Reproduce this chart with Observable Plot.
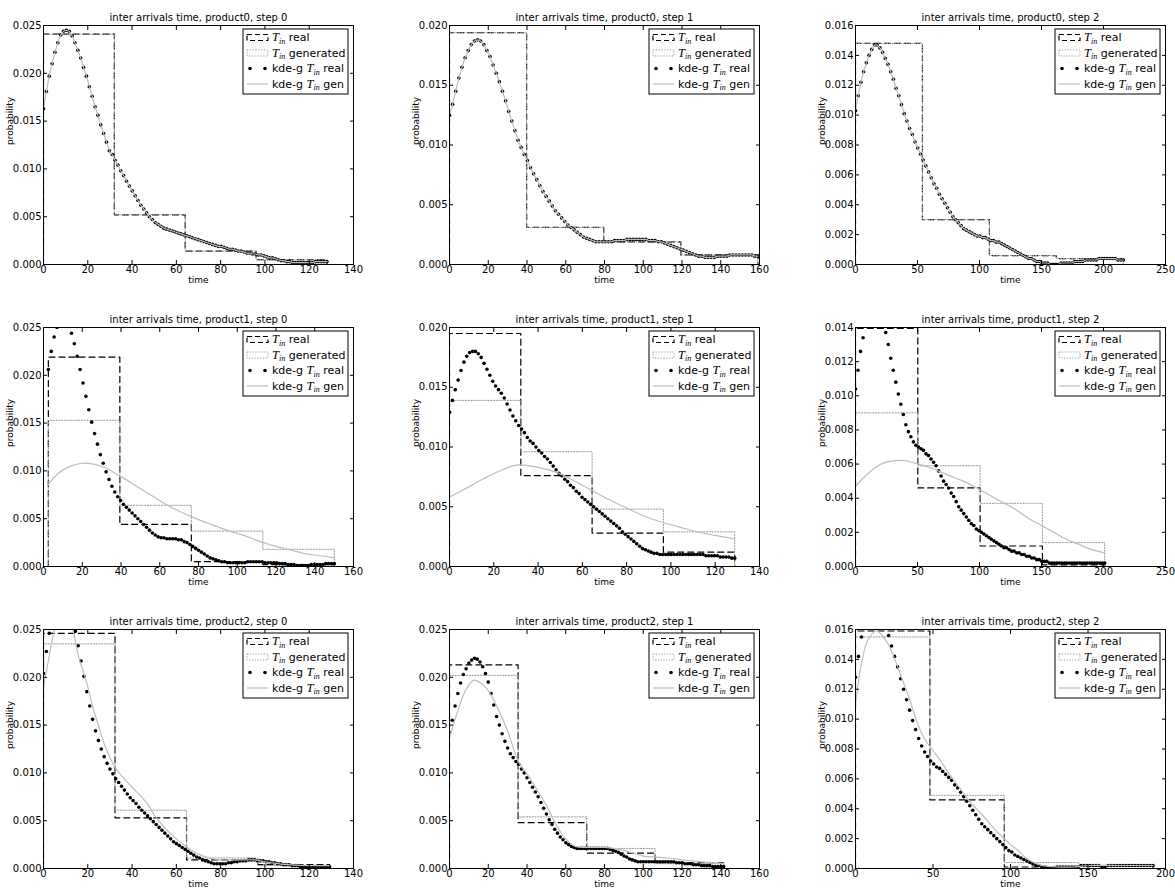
<!DOCTYPE html>
<html><head><meta charset="utf-8">
<script src="https://cdn.jsdelivr.net/npm/d3@7"></script>
<script src="https://cdn.jsdelivr.net/npm/@observablehq/plot@0.6"></script>
<style>
body{margin:0;background:#fff;}
#fig{position:relative;width:1175px;height:889px;overflow:hidden;background:#fff;font-family:"DejaVu Sans",sans-serif;}
#fig svg{position:absolute;overflow:visible;}
</style></head><body><div id="fig"></div>
<script>
// ---------- tick labels ----------
const xTicks140 = [0,20,40,60,80,100,120,140];
const xTicks160 = [0,20,40,60,80,100,120,140,160];
const xTicks200 = [0,50,100,150,200];
const xTicks250 = [0,50,100,150,200,250];
const yTicks025 = [0,0.005,0.010,0.015,0.020,0.025];
const yTicks020 = [0,0.005,0.010,0.015,0.020];
const yTicks016 = [0,0.002,0.004,0.006,0.008,0.010,0.012,0.014,0.016];
const yTicks014 = [0,0.002,0.004,0.006,0.008,0.010,0.012,0.014];

const titles = [
  "inter arrivals time, product0, step 0","inter arrivals time, product0, step 1","inter arrivals time, product0, step 2",
  "inter arrivals time, product1, step 0","inter arrivals time, product1, step 1","inter arrivals time, product1, step 2",
  "inter arrivals time, product2, step 0","inter arrivals time, product2, step 1","inter arrivals time, product2, step 2"
];
const legendLabels = [["", "real"], ["", "generated"], ["kde-g ", "real"], ["kde-g ", "gen"]];

// ---------- product0 step0 ----------
const p0s0_edges = [0,32,64,96,128];
const p0s0_realHist = [.0241,.0052,.0014,.0005];
const p0s0_genHist = [.0241,.0052,.0014,.0005];
const p0s0_kdeRange = [0,128];
const p0s0_kdeReal = [.0163,.0181,.0197,.0210,.0222,.0232,.0240,.0244,.0245,.0244,.0239,.0232,.0224,.0216,.0206,.0197,.0186,.0176,.0165,.0156,.0146,.0137,.0128,.0119,.0115,
.0109,.0104,.0098,.0093,.0087,.0082,.0077,.0072,.0067,.0062,.0058,.0054,.0050,.0047,.0044,.0042,.0040,.0038,.0037,.0036,.0035,.0034,.0033,.0032,.0031,
.0030,.0029,.0028,.0027,.0026,.0025,.0024,.0023,.0022,.0021,.0020,.0019,.0019,.0018,.0017,.0016,.0016,.0015,.0014,.0014,.0013,.0012,.0012,.0011,.0011,
.0010,.0010,.0009,.0008,.0007,.0007,.0006,.0005,.0004,.0004,.0003,.0003,.0002,.0002,.0002,.0002,.0002,.0002,.0002,.0002,.0003,.0003,.0003,.0003,.0003];
const p0s0_kdeGen = [.0163,.0181,.0197,.0210,.0222,.0232,.0240,.0244,.0245,.0244,.0239,.0232,.0224,.0216,.0206,.0197,.0186,.0176,.0165,.0156,.0146,.0137,.0128,.0119,.0115,
.0109,.0104,.0098,.0093,.0087,.0082,.0077,.0072,.0067,.0062,.0058,.0054,.0050,.0047,.0044,.0042,.0040,.0038,.0037,.0036,.0035,.0034,.0033,.0032,.0031,
.0030,.0029,.0028,.0027,.0026,.0025,.0024,.0023,.0022,.0021,.0020,.0019,.0019,.0018,.0017,.0016,.0016,.0015,.0014,.0014,.0013,.0012,.0012,.0011,.0011,
.0010,.0010,.0009,.0008,.0007,.0007,.0006,.0005,.0004,.0004,.0003,.0003,.0002,.0002,.0002,.0002,.0002,.0002,.0002,.0002,.0003,.0003,.0003,.0003,.0003];

// ---------- product0 step1 ----------
const p0s1_edges = [0,39.8,79.6,119.4,159.2];
const p0s1_realHist = [.0194,.0031,.0019,.0008];
const p0s1_genHist = [.0194,.0031,.0019,.0008];
const p0s1_kdeRange = [0,159.2];
const p0s1_kdeReal = [.0125,.0134,.0145,.0156,.0165,.0173,.0179,.0184,.0187,.0188,
.0187,.0184,.0179,.0174,.0167,.0160,.0153,.0145,.0137,.0128,
.0120,.0112,.0104,.0098,.0092,.0087,.0081,.0076,.0071,.0066,
.0061,.0057,.0053,.0049,.0045,.0042,.0039,.0036,.0033,.0031,
.0029,.0027,.0025,.0023,.0022,.0021,.0020,.0019,.0019,.0019,
.0019,.0019,.0019,.0020,.0020,.0020,.0020,.0021,.0021,.0021,
.0021,.0021,.0021,.0021,.0020,.0020,.0020,.0019,.0019,.0018,
.0017,.0016,.0015,.0014,.0013,.0012,.0011,.0010,.0009,.0008,
.0007,.0007,.0006,.0006,.0006,.0006,.0007,.0007,.0007,.0007,
.0008,.0008,.0008,.0008,.0008,.0008,.0008,.0008,.0007,.0007];
const p0s1_kdeGen = [.0125,.0134,.0145,.0156,.0165,.0173,.0179,.0184,.0187,.0188,
.0187,.0184,.0179,.0174,.0167,.0160,.0153,.0145,.0137,.0128,
.0120,.0112,.0104,.0098,.0092,.0087,.0081,.0076,.0071,.0066,
.0061,.0057,.0053,.0049,.0045,.0042,.0039,.0036,.0033,.0031,
.0029,.0027,.0025,.0023,.0022,.0021,.0020,.0019,.0019,.0019,
.0019,.0019,.0019,.0020,.0020,.0020,.0020,.0021,.0021,.0021,
.0021,.0021,.0021,.0021,.0020,.0020,.0020,.0019,.0019,.0018,
.0017,.0016,.0015,.0014,.0013,.0012,.0011,.0010,.0009,.0008,
.0007,.0007,.0006,.0006,.0006,.0006,.0007,.0007,.0007,.0007,
.0008,.0008,.0008,.0008,.0008,.0008,.0008,.0008,.0007,.0007];

// ---------- product0 step2 ----------
const p0s2_edges = [0,54,108,162,216];
const p0s2_realHist = [.0148,.0030,.0006,.0004];
const p0s2_genHist = [.0148,.0030,.0006,.0004];
const p0s2_kdeRange = [0,216];
const p0s2_kdeReal = [.0103,.0113,.0122,.0129,.0135,.0140,.0144,.0147,.0147,.0145,
.0142,.0138,.0134,.0129,.0124,.0118,.0113,.0107,.0101,.0096,
.0091,.0087,.0082,.0078,.0074,.0070,.0066,.0062,.0058,.0054,
.0051,.0047,.0044,.0041,.0038,.0035,.0032,.0030,.0028,.0026,
.0024,.0023,.0022,.0021,.0020,.0019,.0019,.0018,.0018,.0017,
.0016,.0016,.0015,.0015,.0014,.0013,.0012,.0011,.0010,.0009,
.0008,.0007,.0006,.0005,.0004,.0004,.0003,.0002,.0002,.0001,
.0001,.0001,.0000,.0000,.0000,.0000,.0001,.0001,.0001,.0001,
.0001,.0002,.0002,.0002,.0002,.0003,.0003,.0003,.0003,.0003,
.0004,.0004,.0004,.0004,.0004,.0004,.0004,.0003,.0003,.0003];
const p0s2_kdeGen = [.0103,.0113,.0122,.0129,.0135,.0140,.0144,.0147,.0147,.0145,
.0142,.0138,.0134,.0129,.0124,.0118,.0113,.0107,.0101,.0096,
.0091,.0087,.0082,.0078,.0074,.0070,.0066,.0062,.0058,.0054,
.0051,.0047,.0044,.0041,.0038,.0035,.0032,.0030,.0028,.0026,
.0024,.0023,.0022,.0021,.0020,.0019,.0019,.0018,.0018,.0017,
.0016,.0016,.0015,.0015,.0014,.0013,.0012,.0011,.0010,.0009,
.0008,.0007,.0006,.0005,.0004,.0004,.0003,.0002,.0002,.0001,
.0001,.0001,.0000,.0000,.0000,.0000,.0001,.0001,.0001,.0001,
.0001,.0002,.0002,.0002,.0002,.0003,.0003,.0003,.0003,.0003,
.0004,.0004,.0004,.0004,.0004,.0004,.0004,.0003,.0003,.0003];

// ---------- product1 step0 ----------
const p1s0_edges = [2.5,39.4,76.3,113.2,150.1];
const p1s0_realHist = [.0219,.0044,.0005,.0002];
const p1s0_genHist = [.0153,.0064,.0037,.0018];
const p1s0_kdeRange = [2.5,150.1];
const p1s0_kdeReal = [.0206,.0225,.0240,.0250,.0258,.0263,.0264,.0256,.0244,.0233,
.0220,.0206,.0192,.0178,.0164,.0151,.0139,.0128,.0117,.0108,
.0099,.0091,.0084,.0078,.0073,.0069,.0065,.0062,.0059,.0056,
.0053,.0050,.0047,.0044,.0041,.0038,.0035,.0033,.0031,.0030,
.0030,.0029,.0029,.0029,.0029,.0028,.0028,.0026,.0025,.0023,
.0021,.0019,.0017,.0015,.0013,.0011,.0009,.0008,.0007,.0006,
.0005,.0005,.0004,.0004,.0004,.0004,.0004,.0004,.0004,.0005,
.0005,.0005,.0005,.0005,.0005,.0004,.0004,.0004,.0004,.0004,
.0003,.0003,.0003,.0002,.0002,.0002,.0001,.0001,.0001,.0001,
.0001,.0002,.0002,.0002,.0002,.0002,.0003,.0003,.0003,.0003];
const p1s0_genX = [2.5,8,14,20,26,32,40,48,56,64,72,80,88,96,104,112,120,128,136,144,150];
const p1s0_genY = [.0086,.0098,.0105,.0108,.0107,.0103,.0094,.0084,.0074,.0064,.0056,.0049,.0043,.0037,.0032,.0026,.0021,.0017,.0013,.0011,.0009];

// ---------- product1 step1 ----------
const p1s1_edges = [0,32.2,64.4,96.6,128.8];
const p1s1_realHist = [.0195,.0076,.0028,.0012];
const p1s1_genHist = [.0139,.0096,.0048,.0029];
const p1s1_kdeRange = [0,128.8];
const p1s1_kdeReal = [.0129,.0139,.0148,.0156,.0164,.0171,.0176,.0179,.0180,.0180,
.0178,.0175,.0170,.0165,.0160,.0155,.0151,.0148,.0145,.0141,
.0136,.0131,.0126,.0122,.0118,.0115,.0112,.0108,.0105,.0103,
.0100,.0097,.0095,.0092,.0090,.0087,.0084,.0081,.0078,.0076,
.0073,.0071,.0068,.0066,.0063,.0061,.0058,.0056,.0054,.0052,
.0050,.0048,.0046,.0044,.0042,.0040,.0038,.0036,.0034,.0032,
.0029,.0027,.0025,.0023,.0021,.0019,.0017,.0015,.0014,.0013,
.0012,.0011,.0011,.0010,.0010,.0010,.0010,.0010,.0010,.0010,
.0010,.0010,.0010,.0010,.0010,.0010,.0010,.0010,.0010,.0009,
.0009,.0009,.0009,.0009,.0008,.0008,.0008,.0008,.0007,.0007];
const p1s1_genX = [0,8,16,24,31,40,48,56,64,72,80,88,96,104,112,120,128.8];
const p1s1_genY = [.0058,.0066,.0074,.0081,.0085,.0083,.0079,.0072,.0064,.0056,.0049,.0042,.0037,.0033,.0029,.0026,.0023];

// ---------- product1 step2 ----------
const p1s2_edges = [0,50.25,100.5,150.75,201];
const p1s2_realHist = [.01395,.0046,.0012,.0001];
const p1s2_genHist = [.0090,.0059,.0037,.0014];
const p1s2_kdeRange = [0,201];
const p1s2_kdeReal = [.0104,.0115,.0126,.0134,.0141,.0147,.0151,.0154,.0154,.0152,
.0148,.0143,.0137,.0130,.0122,.0115,.0108,.0101,.0095,.0089,
.0083,.0079,.0076,.0073,.0071,.0070,.0069,.0068,.0066,.0065,
.0063,.0061,.0059,.0056,.0053,.0050,.0048,.0046,.0043,.0041,
.0038,.0035,.0033,.0031,.0029,.0027,.0025,.0024,.0022,.0021,
.0020,.0019,.0018,.0017,.0016,.0015,.0014,.0013,.0012,.0011,
.0011,.0010,.0009,.0009,.0008,.0008,.0007,.0007,.0006,.0006,
.0005,.0005,.0004,.0004,.0003,.0003,.0003,.0002,.0002,.0002,
.0002,.0002,.0002,.0002,.0002,.0002,.0002,.0002,.0002,.0002,
.0002,.0002,.0002,.0002,.0002,.0002,.0002,.0002,.0002,.0002];
const p1s2_genX = [0,8,16,24,32,40,50,60,70,80,90,100,110,120,130,140,150,160,170,180,190,201];
const p1s2_genY = [.0047,.0053,.0058,.0061,.0062,.0062,.0060,.0058,.0055,.0052,.0049,.0045,.0041,.0037,.0033,.0028,.0024,.0020,.0016,.0013,.0010,.0008];

// ---------- product2 step0 ----------
const p2s0_edges = [0,32.3,64.6,96.9,129.2];
const p2s0_realHist = [.0246,.0053,.0009,.0004];
const p2s0_genHist = [.0235,.0061,.0011,.0003];
const p2s0_kdeRange = [0,129.2];
const p2s0_kdeReal = [.0204,.0227,.0246,.0258,.0266,.0271,.0273,.0272,.0268,.0262,
.0256,.0248,.0233,.0217,.0201,.0185,.0170,.0156,.0144,.0134,
.0125,.0117,.0110,.0104,.0099,.0094,.0090,.0086,.0082,.0078,
.0074,.0071,.0068,.0064,.0061,.0058,.0055,.0052,.0049,.0046,
.0043,.0040,.0037,.0034,.0031,.0028,.0026,.0024,.0022,.0020,
.0018,.0016,.0014,.0012,.0011,.0009,.0008,.0007,.0006,.0005,
.0005,.0005,.0005,.0005,.0006,.0006,.0007,.0007,.0008,.0008,
.0008,.0009,.0009,.0009,.0008,.0008,.0008,.0007,.0007,.0006,
.0006,.0005,.0005,.0004,.0004,.0004,.0003,.0003,.0003,.0002,
.0002,.0002,.0002,.0002,.0002,.0002,.0002,.0002,.0002,.0002];
const p2s0_genX = [0,2,4,6,8,10,12,14,16,18,20,22,25,28,32,36,40,45,48,50,55,60,65,70,75,80,85,90,95,100,110,120,129];
const p2s0_genY = [.0190,.0215,.0240,.0258,.0268,.0270,.0262,.0242,.0220,.0206,.0190,.0171,.0148,.0127,.0107,.0095,.0085,.0073,.0064,.0056,.0042,.0031,.0022,.0015,.0011,.0009,.0009,.0009,.0009,.0007,.0004,.0003,.0003];

// ---------- product2 step1 ----------
const p2s1_edges = [0,35.4,70.8,106.1,141.5];
const p2s1_realHist = [.0213,.0048,.0016,.0006];
const p2s1_genHist = [.0202,.0054,.0021,.0005];
const p2s1_kdeRange = [0,141.5];
const p2s1_kdeReal = [.0142,.0155,.0170,.0183,.0194,.0203,.0209,.0215,.0218,.0220,
.0219,.0216,.0211,.0204,.0195,.0183,.0171,.0159,.0150,.0141,
.0133,.0126,.0120,.0116,.0112,.0109,.0104,.0100,.0095,.0090,
.0085,.0080,.0075,.0069,.0063,.0057,.0051,.0046,.0041,.0037,
.0033,.0030,.0027,.0025,.0023,.0022,.0021,.0021,.0021,.0021,
.0021,.0021,.0021,.0021,.0021,.0021,.0021,.0021,.0020,.0019,
.0018,.0017,.0015,.0013,.0012,.0010,.0009,.0008,.0007,.0007,
.0007,.0007,.0007,.0007,.0007,.0007,.0007,.0007,.0007,.0007,
.0007,.0007,.0006,.0006,.0006,.0005,.0005,.0005,.0004,.0004,
.0004,.0003,.0003,.0003,.0003,.0002,.0002,.0002,.0002,.0002];
const p2s1_genX = [0,4,8,12.5,16,20,25,30,35.5,40,45,50,55,60,65,71,80,90,100,106,112,120,130,141.5];
const p2s1_genY = [.0137,.0163,.0185,.0197,.0194,.0186,.0167,.0144,.0112,.0099,.0083,.0066,.0046,.0031,.0023,.0022,.0022,.0019,.0013,.0012,.0011,.0009,.0007,.0005];

// ---------- product2 step2 ----------
const p2s2_edges = [0,48,96,144,192];
const p2s2_realHist = [.0159,.0046,.0001,.0002];
const p2s2_genHist = [.0155,.0049,.0004,.0002];
const p2s2_kdeRange = [0,192];
const p2s2_kdeReal = [.0128,.0142,.0155,.0163,.0168,.0171,.0172,.0172,.0170,.0166,
.0161,.0156,.0149,.0142,.0135,.0127,.0120,.0113,.0106,.0099,
.0093,.0087,.0082,.0078,.0075,.0072,.0070,.0068,.0067,.0065,
.0063,.0061,.0059,.0056,.0054,.0051,.0048,.0045,.0042,.0039,
.0036,.0033,.0030,.0028,.0026,.0024,.0022,.0020,.0018,.0016,
.0014,.0012,.0011,.0009,.0008,.0007,.0006,.0005,.0004,.0003,
.0002,.0002,.0001,.0001,.0000,.0000,.0000,.0001,.0001,.0001,
.0001,.0001,.0001,.0001,.0001,.0002,.0002,.0002,.0002,.0002,
.0002,.0002,.0001,.0001,.0002,.0002,.0002,.0002,.0002,.0002,
.0002,.0002,.0002,.0002,.0002,.0002,.0002,.0002,.0002,.0002];
const p2s2_genX = [0,4,8,13.6,20,25,30,35,40,45,50,55,60,65,70,75,80,85,90,96,100,105,110,115,120,130,140,150,170,192];
const p2s2_genY = [.0110,.0138,.0153,.0159,.0152,.0141,.0127,.0113,.0097,.0086,.0079,.0072,.0064,.0057,.0050,.0043,.0038,.0032,.0026,.0020,.0016,.0012,.0007,.0004,.0002,.0001,.0001,.0002,.0002,.0002];

// ---------- panel table ----------
const panels = [
  {title: titles[0], xTicks: xTicks140, yTicks: yTicks025, edges: p0s0_edges, realHist: p0s0_realHist, genHist: p0s0_genHist, kdeRange: p0s0_kdeRange, kdeReal: p0s0_kdeReal, genY: p0s0_kdeGen, genX: null},
  {title: titles[1], xTicks: xTicks160, yTicks: yTicks020, edges: p0s1_edges, realHist: p0s1_realHist, genHist: p0s1_genHist, kdeRange: p0s1_kdeRange, kdeReal: p0s1_kdeReal, genY: p0s1_kdeGen, genX: null},
  {title: titles[2], xTicks: xTicks250, yTicks: yTicks016, edges: p0s2_edges, realHist: p0s2_realHist, genHist: p0s2_genHist, kdeRange: p0s2_kdeRange, kdeReal: p0s2_kdeReal, genY: p0s2_kdeGen, genX: null},
  {title: titles[3], xTicks: xTicks160, yTicks: yTicks025, edges: p1s0_edges, realHist: p1s0_realHist, genHist: p1s0_genHist, kdeRange: p1s0_kdeRange, kdeReal: p1s0_kdeReal, genY: p1s0_genY, genX: p1s0_genX},
  {title: titles[4], xTicks: xTicks140, yTicks: yTicks020, edges: p1s1_edges, realHist: p1s1_realHist, genHist: p1s1_genHist, kdeRange: p1s1_kdeRange, kdeReal: p1s1_kdeReal, genY: p1s1_genY, genX: p1s1_genX},
  {title: titles[5], xTicks: xTicks250, yTicks: yTicks014, edges: p1s2_edges, realHist: p1s2_realHist, genHist: p1s2_genHist, kdeRange: p1s2_kdeRange, kdeReal: p1s2_kdeReal, genY: p1s2_genY, genX: p1s2_genX},
  {title: titles[6], xTicks: xTicks140, yTicks: yTicks025, edges: p2s0_edges, realHist: p2s0_realHist, genHist: p2s0_genHist, kdeRange: p2s0_kdeRange, kdeReal: p2s0_kdeReal, genY: p2s0_genY, genX: p2s0_genX},
  {title: titles[7], xTicks: xTicks160, yTicks: yTicks025, edges: p2s1_edges, realHist: p2s1_realHist, genHist: p2s1_genHist, kdeRange: p2s1_kdeRange, kdeReal: p2s1_kdeReal, genY: p2s1_genY, genX: p2s1_genX},
  {title: titles[8], xTicks: xTicks200, yTicks: yTicks016, edges: p2s2_edges, realHist: p2s2_realHist, genHist: p2s2_genHist, kdeRange: p2s2_kdeRange, kdeReal: p2s2_kdeReal, genY: p2s2_genY, genX: p2s2_genX}
];

// ---------- layout ----------
const FW = 310, FH = 239;            // frame size
const colLeft = [43, 449, 855];
const rowTop = [25, 327, 629];
const ML = 43, MR = 12, MT = 25, MB = 22;

const C_REAL = "#000", C_GENHIST = "#9a9a9a", C_GENLINE = "#bdbdbd";

function stepPoints(edges, h) {
  const pts = [{x: edges[0], y: 0}];
  h.forEach((v, i) => pts.push({x: edges[i], y: v}));
  pts.push({x: edges[edges.length - 1], y: 0});
  return pts;
}
function gridPoints(range, ys) {
  const n = ys.length;
  return ys.map((y, i) => ({x: range[0] + (range[1] - range[0]) * i / (n - 1), y}));
}

const fig = document.getElementById("fig");
const blank = () => "";

panels.forEach((p, k) => {
  const r = Math.floor(k / 3), c = k % 3;
  const xMax = p.xTicks[p.xTicks.length - 1];
  const yMax = p.yTicks[p.yTicks.length - 1];
  const realStep = stepPoints(p.edges, p.realHist);
  const genStep = stepPoints(p.edges, p.genHist);
  const dots = gridPoints(p.kdeRange, p.kdeReal);
  const genLine = p.genX ? p.genX.map((x, i) => ({x, y: p.genY[i]})) : gridPoints(p.kdeRange, p.genY);
  const genCurve = p.genX ? "catmull-rom" : "linear";

  const svg = Plot.plot({
    width: ML + FW + MR, height: MT + FH + MB,
    marginLeft: ML, marginRight: MR, marginTop: MT, marginBottom: MB,
    x: {domain: [0, xMax]},
    y: {domain: [0, yMax]},
    style: {fontFamily: "DejaVu Sans", fontSize: "10px", color: "black", background: "transparent", overflow: "visible"},
    marks: [
      Plot.line(realStep, {x: "x", y: "y", curve: "step-after", stroke: C_REAL, strokeWidth: 1.2, strokeDasharray: "6,4", clip: true}),
      Plot.line(genStep, {x: "x", y: "y", curve: "step-after", stroke: C_GENHIST, strokeWidth: 1, strokeDasharray: "1.2,1.6", clip: true}),
      Plot.dot(dots, {x: "x", y: "y", r: 1.8, fill: "black", stroke: "none", clip: true}),
      Plot.line(genLine, {x: "x", y: "y", curve: genCurve, stroke: C_GENLINE, strokeWidth: 1.2, clip: true}),
      Plot.axisX({ticks: p.xTicks, tickSize: 0, tickPadding: 1, tickFormat: d => String(d), fontSize: 10, label: null}),
      Plot.axisX({ticks: p.xTicks, tickSize: -4, tickFormat: blank, label: null}),
      Plot.axisX({anchor: "top", ticks: p.xTicks, tickSize: -4, tickFormat: blank, label: null}),
      Plot.axisY({ticks: p.yTicks, tickSize: 0, tickPadding: 2, tickFormat: d3.format(".3f"), fontSize: 10, label: null}),
      Plot.axisY({ticks: p.yTicks, tickSize: -4, tickFormat: blank, label: null}),
      Plot.axisY({anchor: "right", ticks: p.yTicks, tickSize: -4, tickFormat: blank, label: null}),
      Plot.frame({stroke: "black", strokeWidth: 1}),
      Plot.text([p.title], {text: d => d, frameAnchor: "top", lineAnchor: "bottom", dy: -5, fontSize: 10}),
      Plot.text(["time"], {text: d => d, frameAnchor: "bottom", lineAnchor: "top", dy: 12, fontSize: 9}),
      Plot.text(["probability"], {text: d => d, frameAnchor: "left", rotate: -90, dx: -33, fontSize: 9})
    ]
  });
  svg.style.left = (colLeft[c] - ML) + "px";
  svg.style.top = (rowTop[r] - MT) + "px";
  fig.appendChild(svg);

  // legend
  const g = d3.select(svg).append("g").attr("class", "legend").attr("text-anchor", "start");
  const bw = 105, bh = 65;
  const bx = ML + FW - 5 - bw, by = MT + 4;
  g.append("rect").attr("x", bx).attr("y", by).attr("width", bw).attr("height", bh)
    .attr("fill", "white").attr("stroke", "black").attr("stroke-width", 1);
  const rowsY = [8.5, 24, 39.5, 55];
  const hx0 = bx + 4, hx1 = bx + 25;
  rowsY.forEach((dy, i) => {
    const cy = by + dy;
    if (i === 0) g.append("rect").attr("x", hx0).attr("y", cy - 3).attr("width", hx1 - hx0).attr("height", 6)
      .attr("fill", "none").attr("stroke", C_REAL).attr("stroke-width", 1.2).attr("stroke-dasharray", "5,3");
    if (i === 1) g.append("rect").attr("x", hx0).attr("y", cy - 3).attr("width", hx1 - hx0).attr("height", 6)
      .attr("fill", "none").attr("stroke", C_GENHIST).attr("stroke-width", 1).attr("stroke-dasharray", "1.2,1.6");
    if (i === 2) [hx0 + 3, hx1 - 3].forEach(x => g.append("circle").attr("cx", x).attr("cy", cy).attr("r", 1.8).attr("fill", "black"));
    if (i === 3) g.append("line").attr("x1", hx0).attr("x2", hx1).attr("y1", cy).attr("y2", cy)
      .attr("stroke", C_GENLINE).attr("stroke-width", 1.2);
    const [pre, suf] = legendLabels[i];
    const t = g.append("text").attr("x", bx + 29).attr("y", cy).attr("dy", "0.35em")
      .attr("text-anchor", "start").attr("font-size", 11).attr("font-family", "DejaVu Sans").attr("fill", "black");
    if (pre) t.append("tspan").text(pre);
    t.append("tspan").attr("font-family", "Liberation Serif").attr("font-style", "italic").attr("font-size", 12.5).attr("fill", "black").text("T");
    t.append("tspan").attr("font-family", "Liberation Serif").attr("font-style", "italic").attr("font-size", 8).attr("fill", "black").attr("dy", 2.5).text("in");
    t.append("tspan").attr("dy", -2.5).text(" " + suf);
  });
});
</script>
</body></html>
